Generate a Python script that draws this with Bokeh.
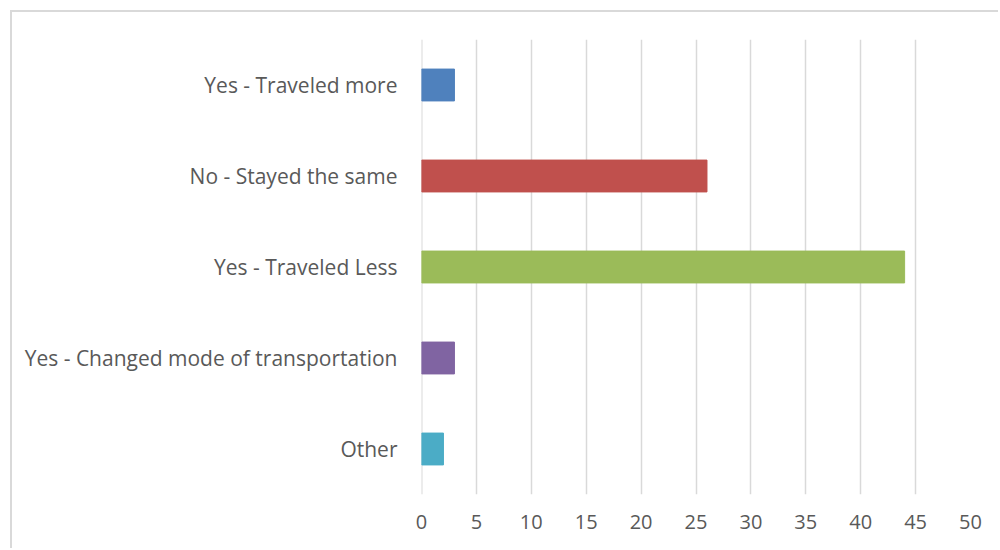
from bokeh.plotting import figure
from bokeh.models import ColumnDataSource, FactorRange, Range1d, FixedTicker, Span
from bokeh.embed import file_html
from bokeh.resources import INLINE

categories = ["Yes - Traveled more", "No - Stayed the same", "Yes - Traveled Less",
              "Yes - Changed mode of transportation", "Other"]
values = [3, 26, 44, 3, 2]
colors = ["#4F81BD", "#C0504D", "#9BBB59", "#8064A2", "#4BACC6"]
x_ticks = [0, 5, 10, 15, 20, 25, 30, 35, 40, 45, 50]

src = ColumnDataSource(dict(cat=categories, val=values, color=colors))

p = figure(width=988, height=538, output_backend="svg", toolbar_location=None,
           y_range=FactorRange(*list(reversed(categories))), x_range=Range1d(0, 50),
           min_border_left=409, min_border_right=30, min_border_top=27, min_border_bottom=56,
           styles={"margin-left": "10px", "margin-top": "10px",
                   "border-left": "2px solid #D9D9D9", "border-top": "2px solid #D9D9D9"})

zero_line = Span(location=0, dimension="height", line_color="#D9D9D9", line_width=2, level="underlay")
p.add_layout(zero_line)

p.hbar(y="cat", right="val", left=0, height=0.35, color="color", source=src)

p.outline_line_color = None
p.background_fill_color = "white"
p.border_fill_color = "white"

p.xgrid.ticker = FixedTicker(ticks=x_ticks)
p.xgrid.grid_line_color = "#D9D9D9"
p.xgrid.grid_line_width = 1.5
p.ygrid.grid_line_color = None

p.xaxis.ticker = FixedTicker(ticks=x_ticks)
p.xaxis.axis_line_color = None
p.xaxis.major_tick_line_color = None
p.xaxis.minor_tick_line_color = None
p.xaxis.major_label_standoff = 14
p.xaxis.major_label_text_font = "Open Sans"
p.xaxis.major_label_text_font_size = "20px"
p.xaxis.major_label_text_color = "#595959"

p.yaxis.axis_line_color = None
p.yaxis.major_tick_line_color = None
p.yaxis.minor_tick_line_color = None
p.yaxis.major_label_standoff = 18
p.yaxis.major_label_text_font = "Open Sans"
p.yaxis.major_label_text_font_size = "21px"
p.yaxis.major_label_text_color = "#595959"

open("out.html", "w").write(file_html(p, INLINE))
